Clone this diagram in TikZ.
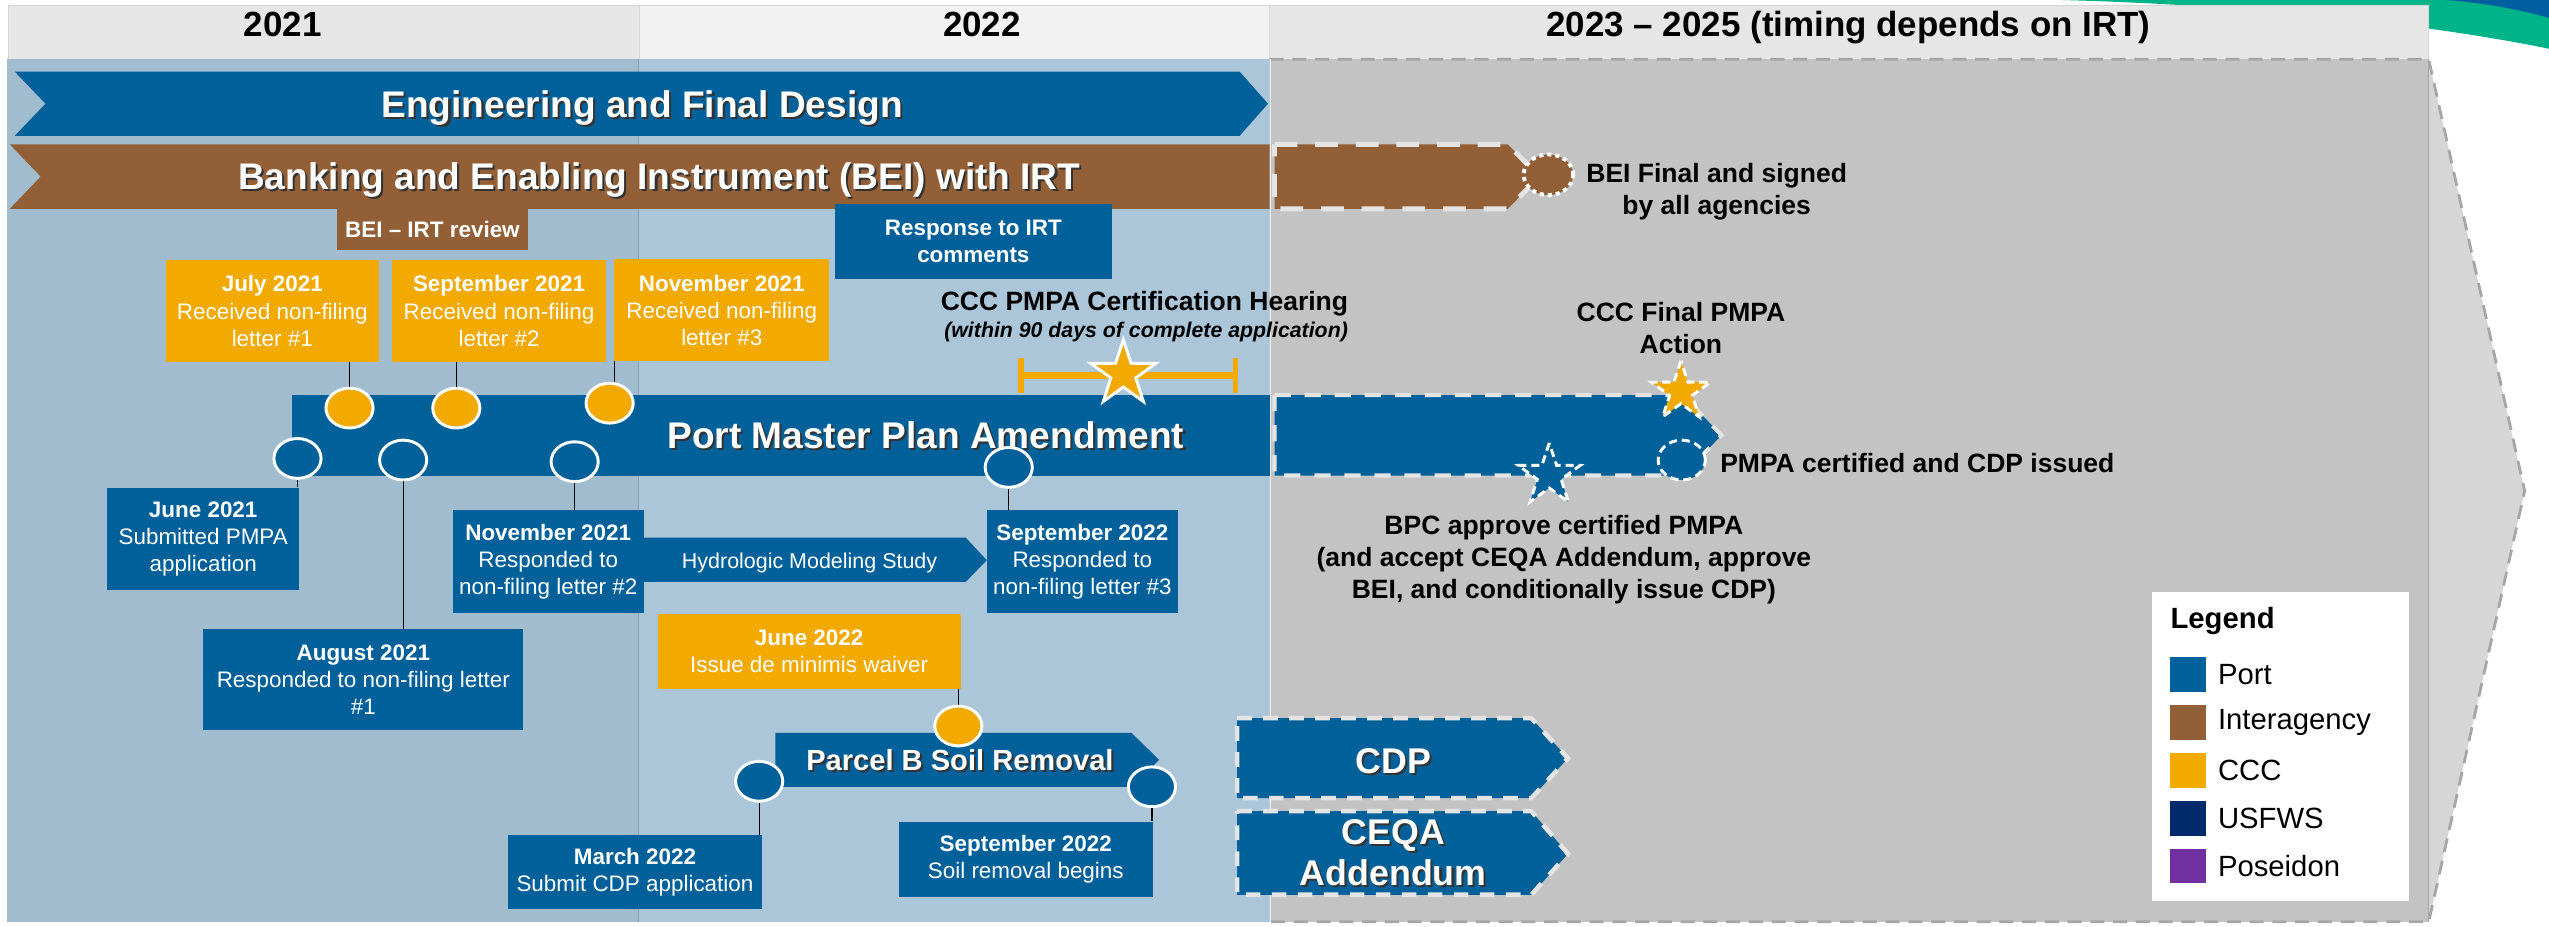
\documentclass[tikz,border=0pt]{standalone}
\usepackage{fontspec}
\setmainfont{Liberation Sans}
\usetikzlibrary{shapes.geometric, positioning}

\definecolor{port}{RGB}{0,97,154}
\definecolor{interagency}{RGB}{146,95,55}
\definecolor{ccc}{RGB}{242,169,0}
\definecolor{usfws}{RGB}{0,42,108}
\definecolor{poseidon}{RGB}{112,48,160}
\definecolor{body21}{RGB}{162,188,207}
\definecolor{body22}{RGB}{170,198,216}
\definecolor{futuregrey}{RGB}{195,195,195}
\definecolor{futuretip}{RGB}{214,214,214}
\definecolor{futureline}{RGB}{166,166,166}
\definecolor{headdark}{RGB}{230,230,230}
\definecolor{headlight}{RGB}{242,242,242}
\definecolor{headline}{RGB}{215,215,215}
\definecolor{dashline}{RGB}{228,228,228}
\definecolor{swoosh}{RGB}{0,179,136}
\definecolor{swooshblue}{RGB}{0,95,158}

\newcommand{\shadowed}[1]{\leavevmode\rlap{\kern1.3pt\raisebox{-1.3pt}{\color{black!80}#1}}#1}

\begin{document}
\begin{tikzpicture}[x=1pt, y=-1pt,
  yearlabel/.style={font=\fontsize{21.5}{25}\selectfont\bfseries, inner sep=0},
  bartext/.style={text=white, font=\fontsize{22.8}{25}\selectfont\bfseries, inner sep=0, align=center},
  infobox/.style={text=white, align=center, inner sep=0, font=\fontsize{13.8}{16.7}\selectfont},
  portbox/.style={infobox, fill=port},
  cccbox/.style={infobox, fill=ccc},
  note/.style={font=\fontsize{16.3}{19.5}\selectfont\bfseries, align=center, inner sep=0},
  milestone/.style={ellipse, draw=white, line width=1.8, minimum width=29, minimum height=24.5, inner sep=0},
  bigstar/.style={star, star points=5, star point ratio=2.6, inner sep=0, draw=white, line width=1.8},
  plannedline/.style={draw=dashline, line width=2.8, dash pattern=on 9 off 7},
  leader/.style={black, line width=0.7},
  swatch/.style={minimum width=22, minimum height=21.5, inner sep=0},
  legendtext/.style={font=\fontsize{18}{20}\selectfont, inner sep=0}
]
\useasboundingbox (0,0) rectangle (1568,570);
\fill[white] (0,0) rectangle (1568,570);

% logo swoosh and year row
\fill[swoosh] (1268,0) .. controls (1380,3) and (1490,14) .. (1568,30) -- (1568,0) -- cycle;
\fill[swooshblue] (1505,0) .. controls (1530,2) and (1550,6) .. (1568,11) -- (1568,0) -- cycle;
\draw[headline, fill=headdark] (5,3) rectangle (393,36.5);
\draw[headline, fill=headlight] (393,3) rectangle (781,36.5);
\draw[headline, fill=headdark] (781,3) rectangle (1494,36.5);
\node[yearlabel, anchor=base] (y21) at (174,22.5) {2021};
\node[yearlabel, anchor=base] (y22) at (604,22.5) {2022};
\node[yearlabel, anchor=base] (y23) at (1137,22.5) {2023 – 2025 (timing depends on IRT)};

% background areas
\fill[body21] (4,36.5) rectangle (393,567);
\fill[body22] (393,36.5) rectangle (781,567);
\draw[body21!85!black, line width=0.6] (393,36.5) -- (393,567);
\fill[futuretip] (781,36.5) -- (1494,36.5) -- (1553,302) -- (1494,567) -- (781,567) -- cycle;
\fill[futuregrey] (781,36.5) rectangle (1494,567);
\draw[futureline, line width=0.5] (1494,36.5) -- (1494,567);
\draw[futureline, line width=1.7, dash pattern=on 8.6 off 5.4] (781,36.5) -- (1494,36.5) -- (1553,302) -- (1494,567) -- (781,567);
\draw[white!70!futuregrey, line width=1] (781.5,36.5) -- (781.5,567);

% long bars
\fill[port] (9,44) -- (762.5,44) -- (780,63.8) -- (762.5,83.6) -- (9,83.6) -- (28,63.8) -- cycle;
\node[bartext, anchor=base] (efd) at (395,72) {\shadowed{Engineering and Final Design}};

\fill[interagency] (6,88.8) -- (781,88.8) -- (781,128.5) -- (6,128.5) -- (25,108.6) -- cycle;
\draw[fill=interagency, plannedline, line width=3, dash pattern=on 14 off 11] (784,88.8) -- (927.5,88.8) -- (947,108.6) -- (927.5,128.5) -- (784,128.5) -- cycle;
\node[bartext, anchor=base] (bei) at (405.5,116.8) {\shadowed{Banking and Enabling Instrument (BEI) with IRT}};

\fill[port] (179.5,243) rectangle (781,292.5);
\draw[fill=port, plannedline, line width=2.5, dash pattern=on 10 off 8.5] (784,243) -- (1035,243) -- (1059,267.7) -- (1035,292.5) -- (784,292.5) -- cycle;
\node[bartext, anchor=base] (pmpa) at (569.5,275.9) {\shadowed{Port Master Plan Amendment}};

\fill[port] (396,330.7) -- (594,330.7) -- (607,344.6) -- (594,358) -- (396,358) -- cycle;
\node[text=white, font=\fontsize{13.2}{15}\selectfont, inner sep=0, anchor=base] (hms) at (498,350) {Hydrologic Modeling Study};

\fill[port] (477,450.8) -- (696,450.8) -- (713,467.4) -- (696,484) -- (477,484) -- cycle;
\node[bartext, font=\fontsize{17.9}{20}\selectfont\bfseries, anchor=base] (parcelb) at (590.5,473.8) {\shadowed{Parcel B Soil Removal}};

\draw[fill=port, plannedline] (761,441.8) -- (942,441.8) -- (964.5,466.4) -- (942,491) -- (761,491) -- cycle;
\node[bartext, font=\fontsize{22}{25}\selectfont\bfseries, anchor=base] (cdp) at (857,475.5) {\shadowed{CDP}};
\draw[fill=port, plannedline] (761,499) -- (942,499) -- (964.5,525.2) -- (942,550.4) -- (761,550.4) -- cycle;
\node[bartext, font=\fontsize{22}{25}\selectfont\bfseries] (ceqa) at (857,525) {\shadowed{CEQA}\\\shadowed{Addendum}};

% boxes
\node[infobox, fill=interagency, font=\fontsize{13.8}{16.7}\selectfont\bfseries, minimum width=118, minimum height=26] (irtreview) at (266,141) {BEI – IRT review};
\node[portbox, font=\fontsize{13.8}{16.7}\selectfont\bfseries, minimum width=170.5, minimum height=46] (irtresp) at (598.75,148.5) {Response to IRT\\comments};

\node[cccbox, minimum width=131, minimum height=62.6] (jul21) at (167.5,191.3) {\textbf{July 2021}\\Received non-filing\\letter \#1};
\node[cccbox, minimum width=132, minimum height=62.6] (sep21) at (307,191.3) {\textbf{September 2021}\\Received non-filing\\letter \#2};
\node[cccbox, minimum width=132, minimum height=62.6] (nov21) at (444,190.8) {\textbf{November 2021}\\Received non-filing\\letter \#3};

\node[portbox, minimum width=118, minimum height=63] (jun21) at (125,331.5) {\textbf{June 2021}\\Submitted PMPA\\application};
\node[portbox, minimum width=197, minimum height=62] (aug21) at (223.5,418) {\textbf{August 2021}\\Responded to non-filing letter\\\#1};
\node[portbox, minimum width=117.5, minimum height=63] (nov21r) at (337.25,345.5) {\textbf{November 2021}\\Responded to\\non-filing letter \#2};
\node[portbox, minimum width=117.5, minimum height=63] (sep22r) at (665.8,345.5) {\textbf{September 2022}\\Responded to\\non-filing letter \#3};
\node[cccbox, minimum width=186.5, minimum height=46] (jun22) at (497.75,400.6) {\textbf{June 2022}\\Issue de minimis waiver};
\node[portbox, minimum width=156, minimum height=45.4] (mar22) at (390.6,536.3) {\textbf{March 2022}\\Submit CDP application};
\node[portbox, minimum width=156, minimum height=46] (sep22s) at (631,528.5) {\textbf{September 2022}\\Soil removal begins};

% milestones
\node[milestone, fill=ccc] (rcv1) at (215,251) {};
\node[milestone, fill=ccc] (rcv2) at (280.7,251) {};
\node[milestone, fill=ccc] (rcv3) at (375,248) {};
\node[milestone, fill=port] (sub1) at (183,282) {};
\node[milestone, fill=port] (rsp1) at (248,283) {};
\node[milestone, fill=port] (rsp2) at (353.5,284) {};
\node[milestone, fill=port] (rsp3) at (620.5,287.5) {};
\node[milestone, fill=ccc] (waiver) at (589.5,446.6) {};
\node[milestone, fill=port] (cdpapp) at (467,480.6) {};
\node[milestone, fill=port] (soil) at (708.6,484) {};

\draw[leader] (jul21.south -| rcv1) -- (rcv1.north);
\draw[leader] (sep21.south -| rcv2) -- (rcv2.north);
\draw[leader] (nov21.south west) -- (nov21.south west |- rcv3.north);
\draw[leader] (sub1.south) -- (sub1.south |- jun21.north);
\draw[leader] (rsp1.south) -- (rsp1.south |- aug21.north);
\draw[leader] (rsp2.south) -- (rsp2.south |- nov21r.north);
\draw[leader] (rsp3.south) -- (rsp3.south |- sep22r.north);
\draw[leader] (jun22.south -| waiver) -- (waiver.north);
\draw[leader] (cdpapp.south) -- (cdpapp.south |- mar22.north);
\draw[leader] (soil.south) -- (soil.south |- sep22s.north);

% hearing window
\coordinate (win-start) at (628,231);
\coordinate (win-end) at (760,231);
\draw[ccc, line width=4] (win-start) -- (win-end);
\draw[ccc, line width=3.5] ([yshift=11]win-start) -- ([yshift=-11]win-start);
\draw[ccc, line width=3.5] ([yshift=11]win-end) -- ([yshift=-11]win-end);
\node[bigstar, fill=ccc, minimum size=42] (hearing) at (691,230) {};
\node[note, anchor=base] (hearingtxt) at (704,190.8) {CCC PMPA Certification Hearing};
\node[note, anchor=base, font=\fontsize{13.1}{15}\selectfont\bfseries\itshape] (hearingsub) at (705,207.5) {(within 90 days of complete application)};

% planned steps
\node[milestone, fill=interagency, minimum width=30.5, minimum height=25, line width=2.4, dash pattern=on 2.6 off 2.4] (beiend) at (952.5,107.5) {};
\node[note] (beifinal) at (1056,118) {BEI Final and signed\\by all agencies};
\node[bigstar, fill=ccc, minimum size=38, dash pattern=on 5 off 3] (cccfinal) at (1034,241) {};
\node[note] (finaltxt) at (1034,201.6) {CCC Final PMPA\\Action};
\node[milestone, fill=port, dash pattern=on 5 off 3] (issued) at (1034.5,283) {};
\node[note, anchor=west] (issuedtxt) at (1058,285) {PMPA certified and CDP issued};
\node[bigstar, fill=port, minimum size=40, dash pattern=on 5 off 3] (bpc) at (953,292.5) {};
\node[note] (bpctxt) at (962,344.3) {BPC approve certified PMPA\\(and accept CEQA Addendum, approve\\BEI, and conditionally issue CDP)};

% legend
\fill[white] (1324,364) rectangle (1482,554.5);
\node[legendtext, font=\fontsize{18}{20}\selectfont\bfseries, anchor=base west] (legend) at (1335,386.4) {Legend};
\foreach \c/\t [count=\i] in {port/Port, interagency/Interagency, ccc/CCC, usfws/USFWS, poseidon/Poseidon}{
  \node[swatch, fill=\c] (sw-\i) at (1346,385.2+29.5*\i) {};
  \node[legendtext, right=7pt of sw-\i] (lab-\i) {\t};
}
\end{tikzpicture}
\end{document}
